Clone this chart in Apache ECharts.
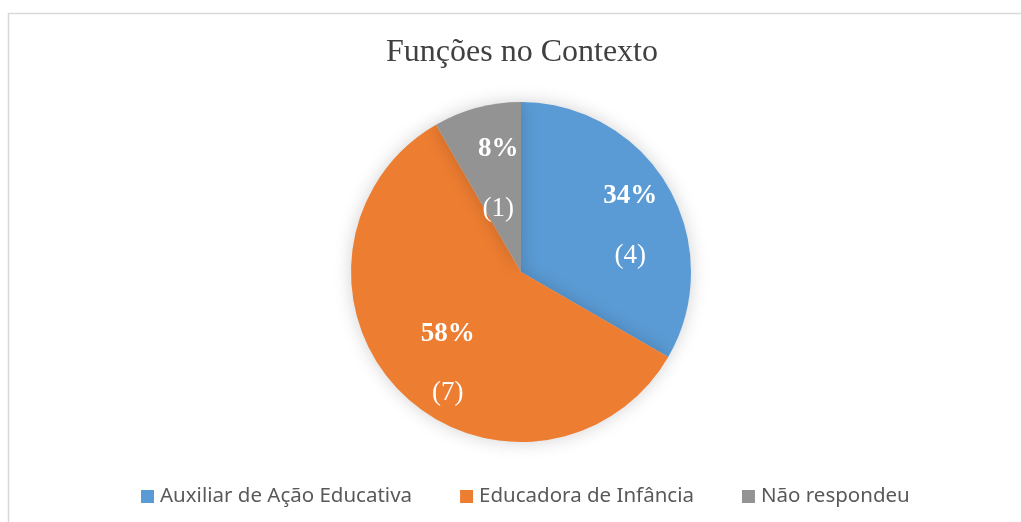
<!DOCTYPE html>
<html>
<head>
<meta charset="utf-8">
<script src="https://cdn.jsdelivr.net/npm/echarts@6/dist/echarts.min.js"></script>
<style>
    html, body { margin: 0; padding: 0; background: #fff; }
    #chart { width: 1021px; height: 522px; }
</style>
</head>
<body>
<div id="chart"></div>
<script>
// data
const categories = ['Auxiliar de Ação Educativa', 'Educadora de Infância', 'Não respondeu'];
const counts = [4, 7, 1];
const pctLabels = ['34%', '58%', '8%'];
const colors = ['#5b9bd5', '#ed7d31', '#939393'];

let myChart = echarts.init(document.getElementById('chart'));

const cx = 521, cy = 272, R = 170;
// nudges for the inside labels (Excel best-fit placement)
const labelShift = [[33, -2], [-11, 29], [0, -8]];

let option = {
    backgroundColor: '#ffffff',
    animation: false,
    color: colors,
    title: {
        text: 'Funções no Contexto',
        left: 381,
        top: 32,
        textStyle: {
            fontFamily: 'Liberation Serif',
            fontWeight: 'normal',
            fontSize: 32,
            color: '#404040'
        }
    },
    legend: {
        top: 481,
        left: 136,
        itemWidth: 13,
        itemHeight: 13,
        itemGap: 48,
        icon: 'rect',
        textStyle: {
            fontFamily: 'Noto Sans',
            fontSize: 20.5,
            color: '#595959',
            padding: [0, 0, 0, 1]
        },
        data: categories
    },
    graphic: [{
        type: 'rect',
        shape: { x: 8.5, y: 13.5, width: 1030, height: 530 },
        style: { fill: null, stroke: '#d9d9d9', lineWidth: 1.5 },
        silent: true
    }],
    series: [{
        type: 'pie',
        center: [cx, cy],
        radius: R,
        startAngle: 90,
        clockwise: true,
        itemStyle: {
            shadowBlur: 18,
            shadowColor: 'rgba(0,0,0,0.18)'
        },
        data: categories.map(function (c, i) {
            return { name: c, value: counts[i] };
        }),
        label: {
            show: true,
            position: 'inside',
            formatter: function (p) {
                return '{p|' + pctLabels[p.dataIndex] + '}\n{c|(' + p.value + ')}';
            },
            rich: {
                p: { fontFamily: 'Liberation Serif', fontWeight: 'bold', fontSize: 27, color: '#fff', lineHeight: 59 },
                c: { fontFamily: 'Liberation Serif', fontSize: 27, color: '#fff', lineHeight: 59 }
            }
        },
        labelLayout: function (p) {
            const r = p.labelRect;
            const s = labelShift[p.dataIndex];
            return {
                x: r.x + r.width / 2 + s[0],
                y: r.y + r.height / 2 + s[1],
                align: 'center',
                verticalAlign: 'middle'
            };
        },
        labelLine: { show: false }
    }]
};

myChart.setOption(option);
</script>
</body>
</html>
